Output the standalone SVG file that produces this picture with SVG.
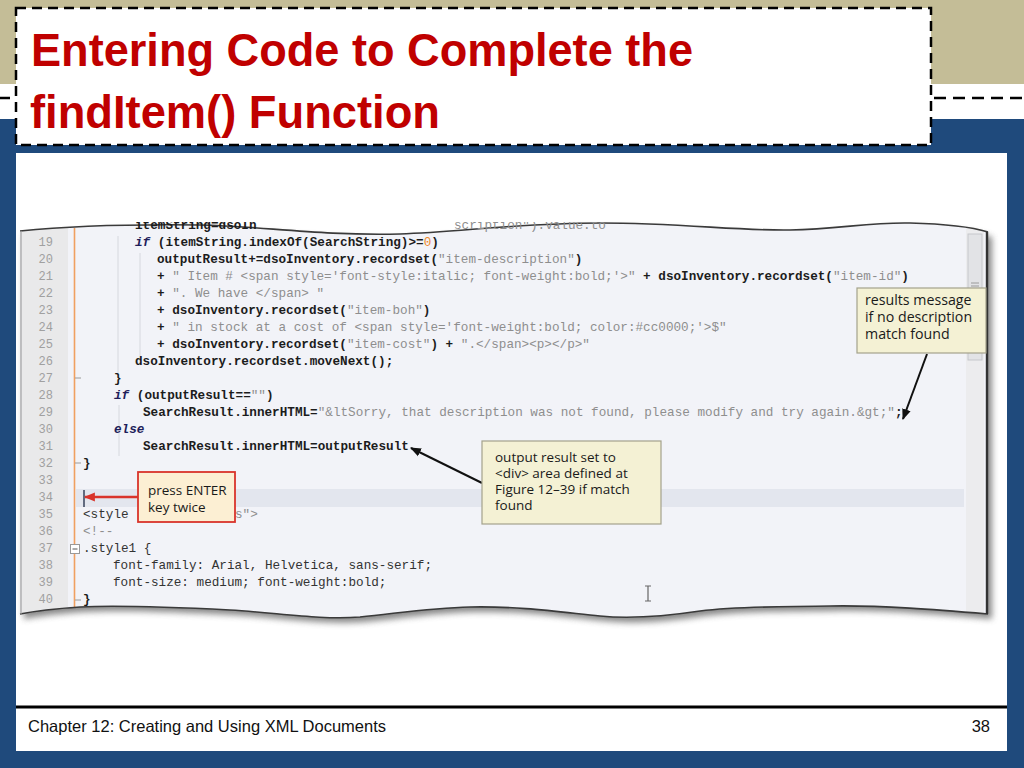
<svg xmlns="http://www.w3.org/2000/svg" width="1024" height="768" viewBox="0 0 1024 768">
<defs>
<style>
.code{font-family:"Liberation Mono","Courier New",monospace;font-size:12.67px;fill:#1c1c1c;font-weight:bold;}
.s{fill:#8e8e8e;font-weight:normal;}
.kw{font-weight:bold;font-style:italic;fill:#1e1e5a;}
.num{fill:#ee8a2e;font-weight:normal;}
.ln{font-family:"Liberation Mono","Courier New",monospace;font-size:12px;fill:#a0a0a0;text-anchor:end;}
.css{fill:#333333;font-weight:normal;}
.call{font-family:"Open Sans","Noto Sans","Liberation Sans",sans-serif;font-size:14.2px;fill:#1a1a1a;}
.call2{font-family:"Open Sans","Noto Sans","Liberation Sans",sans-serif;font-size:13.5px;fill:#1a1a1a;}
.box{fill:#f4f1d4;stroke:#a3a28c;stroke-width:1.2;}
.guide{stroke:#d6d8de;stroke-width:1;}
.ttl{font-family:"Liberation Sans Narrow","Liberation Sans",Arial,sans-serif;font-weight:bold;font-size:46px;fill:#c00000;}
</style>
<marker id="arrowBlack" viewBox="0 0 10 10" refX="9" refY="5" markerWidth="11" markerHeight="11" markerUnits="userSpaceOnUse" orient="auto">
<path d="M0,1 L10,5 L0,9 Z" fill="#111"/>
</marker>
<marker id="arrowRed" viewBox="0 0 10 10" refX="9" refY="5" markerWidth="11" markerHeight="11" markerUnits="userSpaceOnUse" orient="auto">
<path d="M0,1 L10,5 L0,9 Z" fill="#d9342b"/>
</marker>
<filter id="blur" x="-5%" y="-5%" width="110%" height="115%">
<feGaussianBlur stdDeviation="3"/>
</filter>
<clipPath id="topcut"><rect x="0" y="222" width="1024" height="20"/></clipPath>
</defs>

<!-- background bands -->
<rect x="0" y="0" width="1024" height="768" fill="#1f4a7c"/>
<rect x="0" y="0" width="1024" height="84" fill="#c4bd97"/>
<rect x="0" y="84" width="1024" height="35" fill="#ffffff"/>
<line x1="0" y1="98" x2="16" y2="98" stroke="#000" stroke-width="2.5" stroke-dasharray="10,6"/>
<line x1="934" y1="98" x2="1024" y2="98" stroke="#000" stroke-width="2.5" stroke-dasharray="12,7"/>

<!-- content panel -->
<rect x="16" y="153" width="991" height="598" fill="#ffffff"/>

<!-- title box -->
<g id="title">
<rect x="16" y="8" width="915" height="137" fill="#ffffff" stroke="#000" stroke-width="2.5" stroke-dasharray="10,6"/>
<text class="ttl" x="31" y="66" textLength="662" lengthAdjust="spacingAndGlyphs">Entering Code to Complete the</text>
<text class="ttl" x="30" y="128" textLength="410" lengthAdjust="spacingAndGlyphs">findItem() Function</text>
</g>

<!-- screenshot paper -->
<g id="screenshot">
<path d="M20,231 C60,227 120,224 200,225 C260,226 320,236 400,234 C460,232 520,223 600,223 C680,223 740,231 790,230 C840,229 870,222 910,223 C950,224 975,228 988,232 L988,614 C940,610 880,605 830,606 C780,607 740,606 700,611 C660,617 630,619 600,616 C560,612 520,606 470,607 C430,608 400,613 360,617 C320,620 280,613 230,610 C170,607 120,605 80,607 C50,609 30,612 20,614 Z" fill="#6a6a6a" transform="translate(4,5)" filter="url(#blur)" opacity="0.8"/>
<path d="M20,231 C60,227 120,224 200,225 C260,226 320,236 400,234 C460,232 520,223 600,223 C680,223 740,231 790,230 C840,229 870,222 910,223 C950,224 975,228 988,232 L988,614 C940,610 880,605 830,606 C780,607 740,606 700,611 C660,617 630,619 600,616 C560,612 520,606 470,607 C430,608 400,613 360,617 C320,620 280,613 230,610 C170,607 120,605 80,607 C50,609 30,612 20,614 Z" fill="#f2f3f8"/>
<!-- gutter -->
<path d="M22,231 C40,229 55,228 68,228 L68,608 C50,609 35,611 22,613 Z" fill="#e9e9ea"/>
<line x1="74.5" y1="228" x2="74.5" y2="608" stroke="#f0a060" stroke-width="1.6"/>
<!-- current line highlight -->
<rect x="76" y="489" width="888" height="18" fill="#e3e6ee"/>
<!-- scrollbar -->
<path d="M966,227 C972,228 978,229 984,230 L984,614 L966,612 Z" fill="#ececee"/>
<rect x="968" y="234" width="14" height="126" fill="#e2e3e6" stroke="#c6c7cc" stroke-width="1"/>
<line x1="971" y1="283" x2="979" y2="283" stroke="#9a9a9a"/>
<line x1="971" y1="286" x2="979" y2="286" stroke="#9a9a9a"/>
<line x1="971" y1="289" x2="979" y2="289" stroke="#9a9a9a"/>
<!-- edges -->
<path d="M20,231 C60,227 120,224 200,225 C260,226 320,236 400,234 C460,232 520,223 600,223 C680,223 740,231 790,230 C840,229 870,222 910,223 C950,224 975,228 988,232" fill="none" stroke="#3a3a3a" stroke-width="1.6"/>
<path d="M988,614 C940,610 880,605 830,606 C780,607 740,606 700,611 C660,617 630,619 600,616 C560,612 520,606 470,607 C430,608 400,613 360,617 C320,620 280,613 230,610 C170,607 120,605 80,607 C50,609 30,612 20,614" fill="none" stroke="#3a3a3a" stroke-width="1.6"/>
<line x1="21" y1="231" x2="21" y2="614" stroke="#9a9a9a" stroke-width="1.2"/>
<line x1="987" y1="232" x2="987" y2="614" stroke="#333" stroke-width="2.4"/>

<!-- indent guides -->
<line class="guide" x1="140" y1="253" x2="140" y2="356"/>
<line class="guide" x1="118" y1="236" x2="118" y2="373"/>
<line class="guide" x1="119" y1="405" x2="119" y2="456"/>

<!-- fold markers -->
<line x1="75" y1="378" x2="81" y2="378" stroke="#9a9a9a"/>
<line x1="75" y1="463" x2="81" y2="463" stroke="#9a9a9a"/>
<line x1="75" y1="600" x2="81" y2="600" stroke="#9a9a9a"/>
<rect x="70.5" y="544.5" width="9" height="9" fill="#ffffff" stroke="#999"/>
<line x1="72.5" y1="549" x2="77.5" y2="549" stroke="#555"/>

<!-- line numbers -->
<text class="ln" x="53" y="246">19</text>
<text class="ln" x="53" y="263">20</text>
<text class="ln" x="53" y="280">21</text>
<text class="ln" x="53" y="297">22</text>
<text class="ln" x="53" y="314">23</text>
<text class="ln" x="53" y="331">24</text>
<text class="ln" x="53" y="348">25</text>
<text class="ln" x="53" y="365">26</text>
<text class="ln" x="53" y="382">27</text>
<text class="ln" x="53" y="399">28</text>
<text class="ln" x="53" y="416">29</text>
<text class="ln" x="53" y="433">30</text>
<text class="ln" x="53" y="450">31</text>
<text class="ln" x="53" y="467">32</text>
<text class="ln" x="53" y="484">33</text>
<text class="ln" x="53" y="501">34</text>
<text class="ln" x="53" y="518">35</text>
<text class="ln" x="53" y="535">36</text>
<text class="ln" x="53" y="552">37</text>
<text class="ln" x="53" y="569">38</text>
<text class="ln" x="53" y="586">39</text>
<text class="ln" x="53" y="603">40</text>

<!-- code -->
<g clip-path="url(#topcut)">
<text class="code" x="135" y="229" fill="#555">itemString=dsoIn</text>
<text class="code s" x="454" y="229">scription").value.to</text>
</g>
<text class="code" x="135" y="246" xml:space="preserve"><tspan class="kw">if</tspan> (itemString.indexOf(SearchString)&gt;=<tspan class="num">0</tspan>)</text>
<text class="code" x="157" y="263" xml:space="preserve">outputResult+=dsoInventory.recordset(<tspan class="s">"item-description"</tspan>)</text>
<text class="code" x="157" y="280" xml:space="preserve">+ <tspan class="s">" Item # &lt;span style='font-style:italic; font-weight:bold;'&gt;"</tspan> + dsoInventory.recordset(<tspan class="s">"item-id"</tspan>)</text>
<text class="code" x="157" y="297" xml:space="preserve">+ <tspan class="s">". We have &lt;/span&gt; "</tspan></text>
<text class="code" x="157" y="314" xml:space="preserve">+ dsoInventory.recordset(<tspan class="s">"item-boh"</tspan>)</text>
<text class="code" x="157" y="331" xml:space="preserve">+ <tspan class="s">" in stock at a cost of &lt;span style='font-weight:bold; color:#cc0000;'&gt;$"</tspan></text>
<text class="code" x="157" y="348" xml:space="preserve">+ dsoInventory.recordset(<tspan class="s">"item-cost"</tspan>) + <tspan class="s">".&lt;/span&gt;&lt;p&gt;&lt;/p&gt;"</tspan></text>
<text class="code" x="135" y="365">dsoInventory.recordset.moveNext();</text>
<text class="code" x="114" y="382">}</text>
<text class="code" x="114" y="399" xml:space="preserve"><tspan class="kw">if</tspan> (outputResult==<tspan class="s">""</tspan>)</text>
<text class="code" x="143" y="416">SearchResult.innerHTML=<tspan class="s">"&amp;ltSorry, that description was not found, please modify and try again.&amp;gt;"</tspan>;</text>
<text class="code kw" x="114" y="433">else</text>
<text class="code" x="143" y="450">SearchResult.innerHTML=outputResult</text>
<text class="code" x="83" y="467">}</text>
<text class="code css" x="83" y="518">&lt;style</text>
<text class="code s" x="235" y="518">s"&gt;</text>
<text class="code s" x="83" y="535" fill="#b0b0b0">&lt;!--</text>
<text class="code css" x="83" y="552">.style1 {</text>
<text class="code css" x="113" y="569">font-family: Arial, Helvetica, sans-serif;</text>
<text class="code css" x="113" y="586">font-size: medium; font-weight:bold;</text>
<text class="code" x="83" y="603">}</text>

<!-- text cursor on line 34 and I-beam -->
<line x1="84" y1="490" x2="84" y2="507" stroke="#2a3550" stroke-width="1.4"/>
<path d="M645,586 L651,586 M648,586 L648,601 M645,601 L651,601" stroke="#666" stroke-width="1.2" fill="none"/>
</g>

<!-- connectors -->
<g id="connectors">
<line x1="927" y1="354" x2="903" y2="419" stroke="#111" stroke-width="2" marker-end="url(#arrowBlack)"/>
<line x1="482" y1="483" x2="411" y2="448" stroke="#111" stroke-width="2" marker-end="url(#arrowBlack)"/>
<line x1="138" y1="497" x2="85" y2="497" stroke="#d9342b" stroke-width="2.5" marker-end="url(#arrowRed)"/>
</g>

<!-- callouts -->
<g id="callout-results">
<rect class="box" x="857" y="288" width="129" height="65"/>
<text class="call" x="865" y="305">results message</text>
<text class="call" x="865" y="322">if no description</text>
<text class="call" x="865" y="339">match found</text>
</g>
<g id="callout-output">
<rect class="box" x="482" y="441" width="179" height="83"/>
<text class="call2" x="495" y="462">output result set to</text>
<text class="call2" x="495" y="478">&lt;div&gt; area defined at</text>
<text class="call2" x="495" y="494">Figure 12–39 if match</text>
<text class="call2" x="495" y="510">found</text>
</g>
<g id="callout-enter">
<rect x="138" y="472" width="97" height="50" fill="#fcefd3" stroke="#d9342b" stroke-width="1.8"/>
<text class="call2" x="148" y="495">press ENTER</text>
<text class="call2" x="148" y="512">key twice</text>
</g>

<!-- footer -->
<g id="footer">
<line x1="16" y1="707" x2="1007" y2="707" stroke="#000" stroke-width="3"/>
<text x="28" y="732" font-family="Liberation Sans, Arial, sans-serif" font-size="16.5" fill="#111">Chapter 12: Creating and Using XML Documents</text>
<text x="990" y="732" font-family="Liberation Sans, Arial, sans-serif" font-size="16.5" fill="#111" text-anchor="end">38</text>
</g>
</svg>
